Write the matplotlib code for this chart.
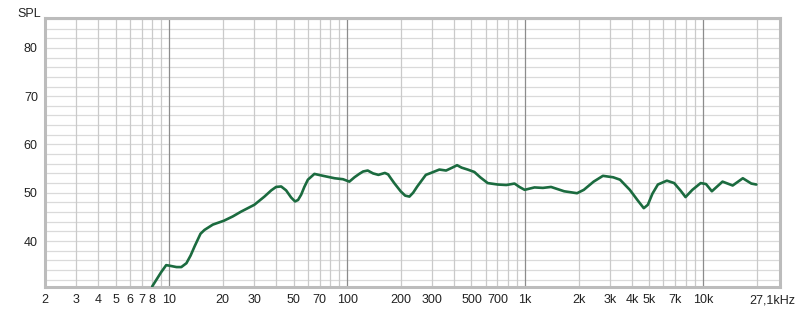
import numpy as np
import matplotlib.pyplot as plt
from matplotlib.transforms import ScaledTranslation

# frequency response
freq = [8.03, 9.0, 9.62, 10.0, 11.0, 11.7, 12.5, 13.2, 13.9, 15.0, 15.8, 17.6, 20.3, 22.8,
        25.4, 30.1, 34.3, 37.5, 39.9, 42.6, 45.4, 48.5, 51.0, 53.0, 55.2, 57.5, 60.2, 65.5,
        73.3, 85.1, 94.8, 103, 110, 117, 123, 130.6, 140, 150, 163, 170, 176, 184, 200, 212,
        224, 235, 248, 277, 296, 330, 360, 390, 415, 440, 476, 519, 560, 617, 703, 785, 873,
        930, 995, 1130, 1260, 1400, 1660, 1960, 2140, 2430, 2740, 3130, 3420, 3880, 4300,
        4650, 4900, 5200, 5580, 6270, 6890, 7500, 7980, 8720, 9710, 10400, 11220, 12880,
        14690, 16750, 18700, 19960]
spl = [30.6, 33.5, 35.0, 34.9, 34.6, 34.6, 35.4, 37.0, 38.9, 41.5, 42.3, 43.4, 44.2, 45.1,
       46.1, 47.5, 49.2, 50.5, 51.2, 51.3, 50.5, 49.0, 48.2, 48.5, 49.6, 51.2, 52.7, 53.9,
       53.5, 53.0, 52.8, 52.3, 53.2, 53.9, 54.4, 54.6, 54.0, 53.7, 54.1, 53.8, 53.0, 52.0,
       50.3, 49.4, 49.2, 50.0, 51.3, 53.7, 54.1, 54.8, 54.6, 55.2, 55.7, 55.2, 54.8, 54.3,
       53.2, 52.0, 51.7, 51.6, 51.9, 51.2, 50.6, 51.1, 51.0, 51.2, 50.3, 49.9, 50.6, 52.3,
       53.5, 53.2, 52.7, 50.6, 48.4, 46.8, 47.5, 49.8, 51.7, 52.5, 52.0, 50.4, 49.1, 50.6,
       52.0, 51.8, 50.3, 52.3, 51.5, 53.0, 51.9, 51.7]

x_ticks = [2, 3, 4, 5, 6, 7, 8, 10, 20, 30, 50, 70, 100, 200, 300, 500, 700,
           1000, 2000, 3000, 4000, 5000, 7000, 10000, 27100]
x_labels = ['2', '3', '4', '5', '6', '7', '8', '10', '20', '30', '50', '70', '100',
            '200', '300', '500', '700', '1k', '2k', '3k', '4k', '5k', '7k', '10k', '27,1kHz']
y_ticks = [40, 50, 60, 70, 80]

plt.rcParams['font.family'] = ['Liberation Sans', 'DejaVu Sans']

fig = plt.figure(figsize=(8, 3.1), dpi=100)
ax = fig.add_axes([0.056, 0.074, 0.919, 0.868])

ax.set_xscale('log')
ax.set_xlim(2, 27100)
ax.set_ylim(30.46, 86.2)

# grid lines
for y in np.arange(32, 87, 2):
    ax.axhline(y, color='#dadada', lw=0.9, zorder=1)
minor_x = [m * 10 ** e for e in range(0, 5) for m in range(1, 10)]
for f in minor_x:
    if 2 <= f <= 27100:
        if f in (10, 100, 1000, 10000):
            ax.axvline(f, color='#8c8c8c', lw=0.9, zorder=2)
        else:
            ax.axvline(f, color='#cacaca', lw=0.9, zorder=2)

ax.plot(freq, spl, color='#1b6b3f', lw=1.9, zorder=3,
        solid_joinstyle='round', solid_capstyle='round')

ax.set_xticks(x_ticks)
ax.set_xticklabels(x_labels)
ax.xaxis.set_minor_locator(plt.NullLocator())
ax.set_yticks(y_ticks)
ax.tick_params(axis='both', length=0, labelsize=9, colors='#222222')
ax.tick_params(axis='x', pad=5)
ax.tick_params(axis='y', pad=5)

# last label sits left of its position, as in the original
last = ax.get_xticklabels()[-1]
last.set_transform(last.get_transform() + ScaledTranslation(-8 / 100, 0, fig.dpi_scale_trans))

for s in ax.spines.values():
    s.set_color('#bcbcbc')
    s.set_linewidth(2.2)

fig.text(0.022, 0.955, 'SPL', fontsize=9, color='#222222', ha='left', va='center')

fig.savefig('out.png', dpi=100)
